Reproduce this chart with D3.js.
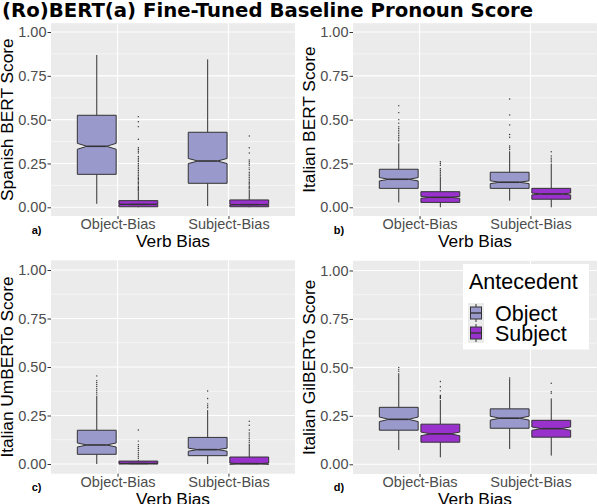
<!DOCTYPE html>
<html>
<head>
<meta charset="utf-8">
<script src="https://cdn.jsdelivr.net/npm/d3@7"></script>
<style>
  body { margin: 0; background: #fff; }
  text { font-family: "Liberation Sans", Arial, sans-serif; }
</style>
</head>
<body>
<svg id="chart"></svg>
<script>
const verbBias = ["Object-Bias", "Subject-Bias"];
const antecedents = ["Object", "Subject"];
const yTicks = [0, 0.25, 0.5, 0.75, 1];
const yMinor = [0.125, 0.375, 0.625, 0.875];
const panelTitles = ["Spanish BERT Score", "Italian BERT Score", "Italian UmBERTo Score", "Italian GilBERTo Score"];
const panelLabels = ["a)", "b)", "c)", "d)"];
const sampleSizes = [1000, 330, 360, 250];

// [verb bias, antecedent, lower whisker, q1, median, q3, upper whisker]
const spanishBert = [
  ["Object-Bias", "Object", 0.02, 0.188, 0.348, 0.525, 0.869],
  ["Object-Bias", "Subject", 0, 0.003, 0.017, 0.038, 0.091],
  ["Subject-Bias", "Object", 0.007, 0.137, 0.264, 0.428, 0.844],
  ["Subject-Bias", "Subject", 0, 0.003, 0.015, 0.042, 0.10]
];
const italianBert = [
  ["Object-Bias", "Object", 0.028, 0.108, 0.16, 0.217, 0.365],
  ["Object-Bias", "Subject", 0, 0.028, 0.057, 0.089, 0.175],
  ["Subject-Bias", "Object", 0.038, 0.108, 0.143, 0.2, 0.32],
  ["Subject-Bias", "Subject", 0, 0.046, 0.076, 0.108, 0.25]
];
const italianUmberto = [
  ["Object-Bias", "Object", 0, 0.05, 0.098, 0.174, 0.352],
  ["Object-Bias", "Subject", 0, 0, 0.003, 0.015, 0.02],
  ["Subject-Bias", "Object", 0, 0.043, 0.074, 0.137, 0.278],
  ["Subject-Bias", "Subject", 0, 0, 0.002, 0.036, 0.098]
];
const italianGilberto = [
  ["Object-Bias", "Object", 0.074, 0.176, 0.232, 0.294, 0.47],
  ["Object-Bias", "Subject", 0.036, 0.114, 0.157, 0.207, 0.332],
  ["Subject-Bias", "Object", 0.079, 0.186, 0.238, 0.286, 0.44],
  ["Subject-Bias", "Subject", 0.045, 0.14, 0.184, 0.227, 0.34]
];

// outliers: [verb bias, antecedent, values]
const spanishBertOut = [
  ["Object-Bias", "Subject", [0.517, 0.488, 0.46, 0.388, 0.34, 0.33, 0.32, 0.31, 0.29, 0.28, 0.27, 0.262, 0.25, 0.24, 0.23,
    0.22, 0.21, 0.2, 0.19, 0.18, 0.172, 0.165, 0.158, 0.15, 0.142, 0.135, 0.128, 0.12, 0.113, 0.106, 0.1, 0.095]],
  ["Subject-Bias", "Subject", [0.407, 0.34, 0.31, 0.27, 0.26, 0.25, 0.24, 0.225, 0.215, 0.2, 0.19, 0.18, 0.17, 0.16,
    0.15, 0.142, 0.135, 0.128, 0.12, 0.113, 0.106]]
];
const italianBertOut = [
  ["Object-Bias", "Object", [0.58, 0.54, 0.50, 0.48, 0.46, 0.45, 0.44, 0.43, 0.42, 0.41, 0.40, 0.39, 0.38]],
  ["Object-Bias", "Subject", [0.26, 0.25, 0.24, 0.22, 0.21, 0.2, 0.19, 0.18]],
  ["Subject-Bias", "Object", [0.618, 0.527, 0.47, 0.415, 0.40, 0.35, 0.34, 0.33]],
  ["Subject-Bias", "Subject", [0.317, 0.293, 0.28, 0.27, 0.26]]
];
const italianUmbertoOut = [
  ["Object-Bias", "Object", [0.454, 0.43, 0.42, 0.41, 0.40, 0.39, 0.38, 0.37, 0.36]],
  ["Object-Bias", "Subject", [0.175, 0.118, 0.10, 0.09, 0.08, 0.07, 0.06, 0.05, 0.04, 0.03]],
  ["Subject-Bias", "Object", [0.376, 0.338, 0.31, 0.30, 0.29]],
  ["Subject-Bias", "Subject", [0.22, 0.20, 0.175, 0.16, 0.15, 0.14, 0.13, 0.12, 0.11, 0.10]]
];
const italianGilbertoOut = [
  ["Object-Bias", "Object", [0.50, 0.49, 0.48]],
  ["Object-Bias", "Subject", [0.427, 0.40, 0.379, 0.355, 0.35, 0.345, 0.34]],
  ["Subject-Bias", "Object", [0.445]],
  ["Subject-Bias", "Subject", [0.418, 0.375, 0.367]]
];

const svg = d3.select("#chart").attr("width", 598).attr("height", 504);
const fill = d3.scaleOrdinal().domain(antecedents).range(["#9999CC", "#9932CC"]);

svg.append("text").attr("x", 2).attr("y", 16.8)
  .style("font-family", "'DejaVu Sans', sans-serif").style("font-weight", "bold").style("font-size", "19.7px")
  .text("(Ro)BERT(a) Fine-Tuned Baseline Pronoun Score");

const panels = [
  { data: spanishBert, out: spanishBertOut, left: 51, right: 295, top: 32, zero: 207.3, col: 0 },
  { data: italianBert, out: italianBertOut, left: 353, right: 597, top: 32, zero: 207.3, col: 302 },
  { data: italianUmberto, out: italianUmbertoOut, left: 51, right: 295, top: 270, zero: 464, col: 0 },
  { data: italianGilberto, out: italianGilbertoOut, left: 353, right: 597, top: 270.5, zero: 464.3, col: 302 }
];

panels.forEach(function(p, i) {
  let g = svg.append("g");
  let y = d3.scaleLinear().domain([0, 1]).range([p.zero, p.top]);
  let x = d3.scalePoint().domain(verbBias).range([p.left, p.right]).padding(0.6);
  let step = x.step();
  let dodge = d3.scaleBand().domain(antecedents).range([-0.375 * step, 0.375 * step]);
  let halfW = 0.35 * step / 2;
  let pTop = y(1.05), pBot = y(-0.05);

  g.append("rect").attr("x", p.left).attr("y", pTop).attr("width", p.right - p.left).attr("height", pBot - pTop)
    .attr("fill", "#EBEBEB");
  g.selectAll(".minor").data(yMinor).enter().append("line")
    .attr("x1", p.left).attr("x2", p.right).attr("y1", d => y(d)).attr("y2", d => y(d))
    .attr("stroke", "#fff").attr("stroke-width", 0.55);
  g.selectAll(".major").data(yTicks).enter().append("line")
    .attr("x1", p.left).attr("x2", p.right).attr("y1", d => y(d)).attr("y2", d => y(d))
    .attr("stroke", "#fff").attr("stroke-width", 1.1);
  g.selectAll(".vmajor").data(verbBias).enter().append("line")
    .attr("x1", d => x(d)).attr("x2", d => x(d)).attr("y1", pTop).attr("y2", pBot)
    .attr("stroke", "#fff").attr("stroke-width", 1.1);

  // axes
  let yAxis = g.append("g").attr("transform", "translate(" + p.left + ",0)")
    .call(d3.axisLeft(y).tickValues(yTicks).tickFormat(d3.format(".2f")).tickSize(3.5).tickPadding(1));
  let xAxis = g.append("g").attr("transform", "translate(0," + pBot + ")")
    .call(d3.axisBottom(x).tickSize(3).tickPadding(0));
  [yAxis, xAxis].forEach(function(a) {
    a.select(".domain").remove();
    a.selectAll("line").attr("stroke", "#333");
    a.selectAll("text").attr("fill", "#4D4D4D").style("font-size", "14.5px").style("font-family", "'Liberation Sans', Arial, sans-serif");
  });

  // boxes
  let n = sampleSizes[i];
  p.data.forEach(function(d) {
    let cx = x(d[0]) + dodge(d[1]) + dodge.bandwidth() / 2;
    let lo = d[2], q1 = d[3], med = d[4], q3 = d[5], hi = d[6];
    let nh = 1.58 * (q3 - q1) / Math.sqrt(n);
    let x0 = cx - halfW, x1 = cx + halfW, ind = 0.25 * (x1 - x0);
    g.append("line").attr("x1", cx).attr("x2", cx).attr("y1", y(q3)).attr("y2", y(hi))
      .attr("stroke", "#333").attr("stroke-width", 1);
    g.append("line").attr("x1", cx).attr("x2", cx).attr("y1", y(q1)).attr("y2", y(lo))
      .attr("stroke", "#333").attr("stroke-width", 1);
    let pts = [[x0, y(q3)], [x0, y(med + nh)], [x0 + ind, y(med)], [x0, y(med - nh)], [x0, y(q1)],
      [x1, y(q1)], [x1, y(med - nh)], [x1 - ind, y(med)], [x1, y(med + nh)], [x1, y(q3)]];
    g.append("polygon").attr("points", pts.map(q => q.join(",")).join(" "))
      .attr("fill", fill(d[1])).attr("stroke", "#333").attr("stroke-width", 1);
    g.append("line").attr("x1", x0 + ind).attr("x2", x1 - ind).attr("y1", y(med)).attr("y2", y(med))
      .attr("stroke", "#333").attr("stroke-width", 1.6);
  });
  p.out.forEach(function(o) {
    let cx = x(o[0]) + dodge(o[1]) + dodge.bandwidth() / 2;
    g.selectAll(null).data(o[2]).enter().append("circle")
      .attr("cx", cx).attr("cy", v => y(v)).attr("r", 0.7).attr("fill", "#333");
  });

  // titles
  g.append("text").attr("transform", "translate(" + (13.3 + p.col) + "," + ((pTop + pBot) / 2) + ")rotate(-90)")
    .attr("text-anchor", "middle").style("font-size", "17.3px").text(panelTitles[i]);
  g.append("text").attr("x", (p.left + p.right) / 2).attr("y", pBot + 31)
    .attr("text-anchor", "middle").style("font-size", "17.3px").text("Verb Bias");
  g.append("text").attr("x", 31.7 + p.col).attr("y", pBot + 17.5)
    .style("font-size", "11px").style("font-weight", "bold").text(panelLabels[i]);
});

// legend
let lg = svg.append("g");
lg.append("rect").attr("x", 463).attr("y", 264).attr("width", 126).attr("height", 85.5).attr("fill", "#fff");
lg.append("text").attr("x", 469).attr("y", 288.7).style("font-size", "21.5px").text("Antecedent");
antecedents.forEach(function(a, k) {
  let ky = 303 + k * 20;
  lg.append("rect").attr("x", 468).attr("y", ky).attr("width", 16).attr("height", 20).attr("fill", "#EBEBEB");
  lg.append("line").attr("x1", 476).attr("x2", 476).attr("y1", ky + 1).attr("y2", ky + 19)
    .attr("stroke", "#333").attr("stroke-width", 1);
  lg.append("rect").attr("x", 470.5).attr("y", ky + 4).attr("width", 11).attr("height", 12)
    .attr("fill", fill(a)).attr("stroke", "#333").attr("stroke-width", 1);
  lg.append("line").attr("x1", 470.5).attr("x2", 481.5).attr("y1", ky + 10).attr("y2", ky + 10)
    .attr("stroke", "#333").attr("stroke-width", 1.4);
  lg.append("text").attr("x", 495).attr("y", ky + 17.7).style("font-size", "21.5px").text(a);
});
</script>
</body>
</html>
